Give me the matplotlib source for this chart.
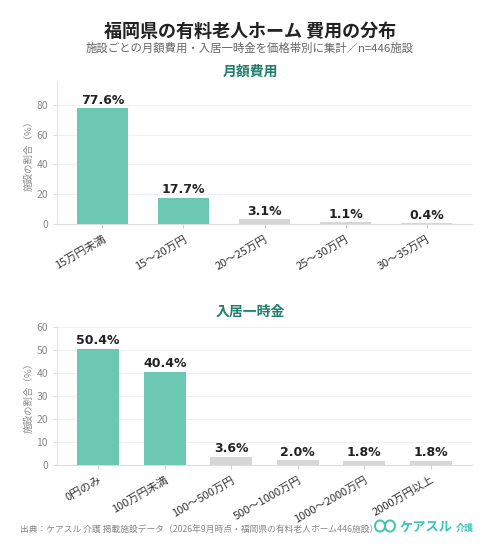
import matplotlib
matplotlib.use("Agg")
import matplotlib.pyplot as plt
from matplotlib.patches import Circle

plt.rcParams['font.family'] = ['Noto Sans CJK JP', 'DejaVu Sans']

monthly_labels = ["15万円未満", "15〜20万円", "20〜25万円", "25〜30万円", "30〜35万円"]
monthly_values = [77.6, 17.7, 3.1, 1.1, 0.4]
monthly_highlight = [True, True, False, False, False]

entry_labels = ["0円のみ", "100万円未満", "100〜500万円", "500〜1000万円", "1000〜2000万円", "2000万円以上"]
entry_values = [50.4, 40.4, 3.6, 2.0, 1.8, 1.8]
entry_highlight = [True, True, False, False, False, False]

TEAL = "#6cc8b2"
GRAY = "#d6d6d6"
DARK = "#222222"
SEC = "#1f7f6c"

fig = plt.figure(figsize=(5.0, 5.58), dpi=100)
fig.patch.set_facecolor("white")

fig.text(0.5, 1 - 31/558, "福岡県の有料老人ホーム 費用の分布", ha="center", va="center",
         fontsize=13, fontweight="bold", color=DARK)
fig.text(0.5, 1 - 48/558, "施設ごとの月額費用・入居一時金を価格帯別に集計／n=446施設", ha="center", va="center",
         fontsize=8.2, color="#666666")
fig.text(0.5, 1 - 72/558, "月額費用", ha="center", va="center", fontsize=10, fontweight="bold", color=SEC)
fig.text(0.5, 1 - 312/558, "入居一時金", ha="center", va="center", fontsize=10, fontweight="bold", color=SEC)


def draw(ax, labels, values, hl, ylim, yticks, xpad):
    colors = [TEAL if h else GRAY for h in hl]
    x = list(range(len(values)))
    ax.bar(x, values, width=0.63, color=colors, zorder=3)
    ax.set_xlim(-xpad, len(values) - 1 + xpad)
    ax.set_ylim(*ylim)
    ax.set_yticks(yticks)
    ax.set_xticks(x)
    ax.set_xticklabels(labels, rotation=30, ha="right", rotation_mode="anchor", fontsize=8, color="#333333")
    for xi, v in zip(x, values):
        ax.text(xi, v + ylim[1] * 0.012, f"{v}%", ha="center", va="bottom", fontsize=9,
                fontweight="bold", color=DARK, family=['DejaVu Sans'], zorder=4)
    ax.grid(axis="y", color="#f0f0f0", linewidth=0.8, zorder=0)
    for s in ["top", "right"]:
        ax.spines[s].set_visible(False)
    ax.spines["left"].set_color("#e6e6e6")
    ax.spines["bottom"].set_color("#dddddd")
    ax.tick_params(axis="y", labelsize=7.5, colors="#888888", length=3, color="#dddddd")
    ax.tick_params(axis="x", length=3, color="#cccccc", pad=4)
    ax.set_ylabel("施設の割合（%）", fontsize=6.8, color="#888888", labelpad=2)


ax1 = fig.add_axes([57/500, 1 - 224/558, 415/500, 142/558])
draw(ax1, monthly_labels, monthly_values, monthly_highlight, (0, 95.2), [0, 20, 40, 60, 80], 0.56)

ax2 = fig.add_axes([57/500, 1 - 465/558, 415/500, 139/558])
draw(ax2, entry_labels, entry_values, entry_highlight, (0, 60.3), [0, 10, 20, 30, 40, 50, 60], 0.62)

fig.text(20/500, 1 - 529/558, "出典：ケアスル 介護 掲載施設データ（2026年9月時点・福岡県の有料老人ホーム446施設）",
         ha="left", va="center", fontsize=6.3, color="#888888")

# logo
LOGO = "#3cc4b4"
fig.add_artist(Circle((380/500, 1 - 526/558), 5/500, transform=fig.transFigure, fill=False,
                      edgecolor=LOGO, linewidth=1.4))
fig.add_artist(Circle((390/500, 1 - 526/558), 5/500, transform=fig.transFigure, fill=False,
                      edgecolor=LOGO, linewidth=1.4))
fig.text(399/500, 1 - 527/558, "ケアスル", ha="left", va="center", fontsize=9.5, fontweight="bold", color=LOGO)
fig.text(456/500, 1 - 528/558, "介護", ha="left", va="center", fontsize=6.5, fontweight="bold", color=LOGO)

fig.savefig("out.png", dpi=100, facecolor="white")
